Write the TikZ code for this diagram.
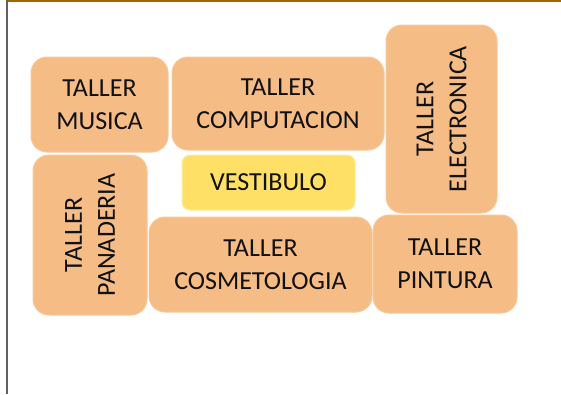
\documentclass[tikz,border=0pt]{standalone}
\usepackage{fontspec}
\setmainfont{Carlito}
\definecolor{roomfill}{HTML}{F5BC86}
\definecolor{roomedge}{HTML}{F7C89A}
\definecolor{vestfill}{HTML}{FFE066}
\definecolor{vestedge}{HTML}{FFEB9A}
\definecolor{topline}{HTML}{9C6500}
\definecolor{leftline}{HTML}{606060}
\definecolor{txt}{HTML}{111111}
\tikzset{
  roomfont/.style={font=\fontsize{26}{33}\selectfont, text=txt, align=center},
  room/.style={draw=roomedge, line width=1pt, fill=roomfill, rounded corners=16pt,
    inner sep=0pt, roomfont},
  vest/.style={room, draw=vestedge, fill=vestfill, rounded corners=8pt},
}
\begin{document}
\begin{tikzpicture}[x=1pt,y=-1pt]
\useasboundingbox (0,0) rectangle (561,394);
\fill[white] (0,0) rectangle (561,394);
\draw[topline, line width=2.5pt] (6,1) -- (561,1);
\draw[leftline, line width=1.8pt] (7,0) -- (7,394);
% rooms (centres in pixel coordinates)
\node[room, minimum width=137pt, minimum height=95pt] (musica) at (99.5,104.5) {TALLER\\MUSICA};
\node[room, minimum width=212pt, minimum height=93pt] (comp) at (278,103.5) {TALLER\\COMPUTACION};
\node[room, minimum width=111pt, minimum height=188pt] (elec) at (441.5,119) {};
\node[rotate=90, roomfont] (electxt) at (elec.center) {TALLER\\ELECTRONICA};
\node[room, minimum width=114pt, minimum height=160pt] (pan) at (90,235) {};
\node[rotate=90, roomfont] (pantxt) at (pan.center) {TALLER\\PANADERIA};
\node[vest, minimum width=173pt, minimum height=55pt] (vest) at (268.5,182.5) {VESTIBULO};
\node[room, minimum width=223pt, minimum height=95pt] (cosm) at (260.5,264.5) {TALLER\\COSMETOLOGIA};
\node[room, minimum width=144pt, minimum height=98pt] (pint) at (445,264) {TALLER\\PINTURA};
\end{tikzpicture}
\end{document}
